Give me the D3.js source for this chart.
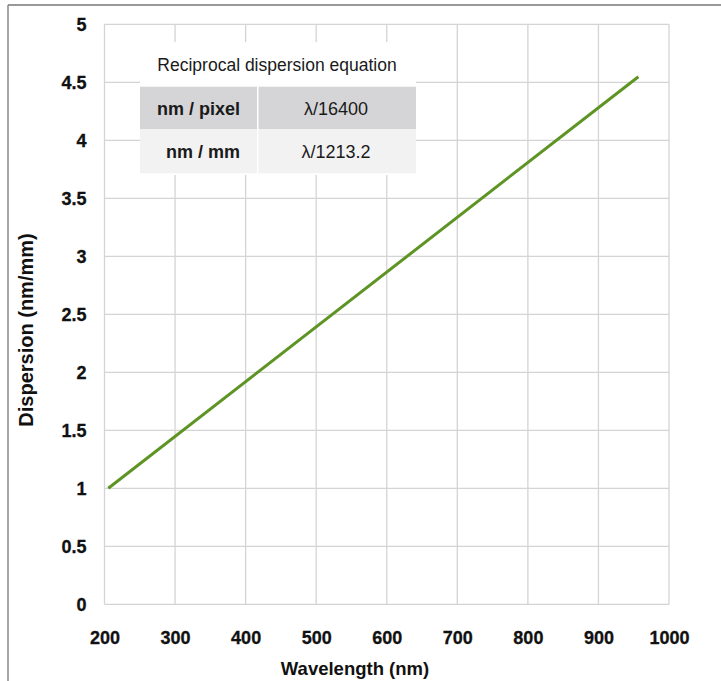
<!DOCTYPE html>
<html>
<head>
<meta charset="utf-8">
<script src="https://cdn.jsdelivr.net/npm/d3@7"></script>
<style>
body { margin: 0; background: #fff; }
text { font-family: "Liberation Sans", Arial, sans-serif; }
</style>
</head>
<body>
<script>

// data
var wavelength = [205.4, 956.6]
var dispersion = [1.0, 4.548]
var xTicks = [200, 300, 400, 500, 600, 700, 800, 900, 1000]
var yTicks = [0, 0.5, 1, 1.5, 2, 2.5, 3, 3.5, 4, 4.5, 5]
var tableTitle = "Reciprocal dispersion equation"
var tableUnits = ["nm / pixel", "nm / mm"]
var tableEqs = ["λ/16400", "λ/1213.2"]

var W = 721, H = 681
var margin = {top: 24.3, right: 52, bottom: 76.7, left: 104.5}

var svg = d3.select("body").append("svg").attr("width", W).attr("height", H)

// outer frame (top + left edges)
svg.append("line").attr("x1", 8).attr("x2", W).attr("y1", 5).attr("y2", 5)
  .attr("stroke", "#999").attr("stroke-width", 2)
svg.append("line").attr("x1", 8).attr("x2", 8).attr("y1", 5).attr("y2", H)
  .attr("stroke", "#888").attr("stroke-width", 1.5)

var x = d3.scaleLinear().domain([200, 1000]).range([margin.left, W - margin.right])
var y = d3.scaleLinear().domain([0, 5]).range([H - margin.bottom, margin.top])

// grid
svg.append("g").selectAll("line").data(xTicks).enter().append("line")
  .attr("x1", d => x(d)).attr("x2", d => x(d))
  .attr("y1", y(0)).attr("y2", y(5))
  .attr("stroke", "#d4d4d4").attr("stroke-width", 1.3)
svg.append("g").selectAll("line").data(yTicks).enter().append("line")
  .attr("x1", x(200)).attr("x2", x(1000))
  .attr("y1", d => y(d)).attr("y2", d => y(d))
  .attr("stroke", "#d4d4d4").attr("stroke-width", 1.3)

// tick labels
svg.append("g").attr("transform", "translate(0," + y(0) + ")")
  .call(d3.axisBottom(x).tickValues(xTicks).tickSize(0).tickPadding(27).tickFormat(d3.format("d")))
svg.append("g").attr("transform", "translate(" + x(200) + ",0)")
  .call(d3.axisLeft(y).tickValues(yTicks).tickSize(0).tickPadding(18).tickFormat(d => String(d)))
svg.selectAll(".domain").remove()
svg.selectAll(".tick text")
  .attr("font-family", "'Liberation Sans', Arial, sans-serif")
  .attr("font-size", 18).attr("font-weight", "bold").attr("fill", "#111")
  .attr("stroke", "#111").attr("stroke-width", 0.3)

// axis titles
svg.append("text")
  .attr("x", 355).attr("y", 675)
  .attr("text-anchor", "middle").attr("font-size", 18.5).attr("font-weight", "bold")
  .attr("fill", "#111").text("Wavelength (nm)")
svg.append("text")
  .attr("transform", "translate(33," + 330 + ") rotate(-90)")
  .attr("text-anchor", "middle").attr("font-size", 20).attr("font-weight", "bold")
  .attr("fill", "#111").text("Dispersion (nm/mm)")

// line
var pts = wavelength.map((d, i) => [d, dispersion[i]])
svg.append("path").datum(pts)
  .attr("d", d3.line().x(d => x(d[0])).y(d => y(d[1])))
  .attr("fill", "none").attr("stroke", "#5e9424").attr("stroke-width", 3)

// equation table
var tx = 140, tw = 276, c1 = 117
var tbl = svg.append("g")
tbl.append("rect").attr("x", tx).attr("y", 42).attr("width", tw).attr("height", 133).attr("fill", "#fff")
tbl.append("text").attr("x", 277).attr("y", 71)
  .attr("text-anchor", "middle").attr("font-size", 17.5).attr("fill", "#1a1a1a")
  .text(tableTitle)
var rowY = [86.7, 130], rowH = [42.6, 43.3], rowFill = ["#d5d5d7", "#f2f2f2"]
tableUnits.forEach(function(u, i) {
  tbl.append("rect").attr("x", tx).attr("y", rowY[i]).attr("width", c1).attr("height", rowH[i]).attr("fill", rowFill[i])
  tbl.append("rect").attr("x", tx + c1 + 1.5).attr("y", rowY[i]).attr("width", tw - c1 - 1.5).attr("height", rowH[i]).attr("fill", rowFill[i])
  tbl.append("text").attr("x", 240).attr("y", rowY[i] + rowH[i] / 2 + 6.5)
    .attr("text-anchor", "end").attr("font-size", 18).attr("font-weight", "bold").attr("fill", "#1a1a1a").text(u)
  tbl.append("text").attr("x", 336).attr("y", rowY[i] + rowH[i] / 2 + 6.5)
    .attr("text-anchor", "middle").attr("font-size", 18).attr("fill", "#1a1a1a").text(tableEqs[i])
})

</script>
</body>
</html>
